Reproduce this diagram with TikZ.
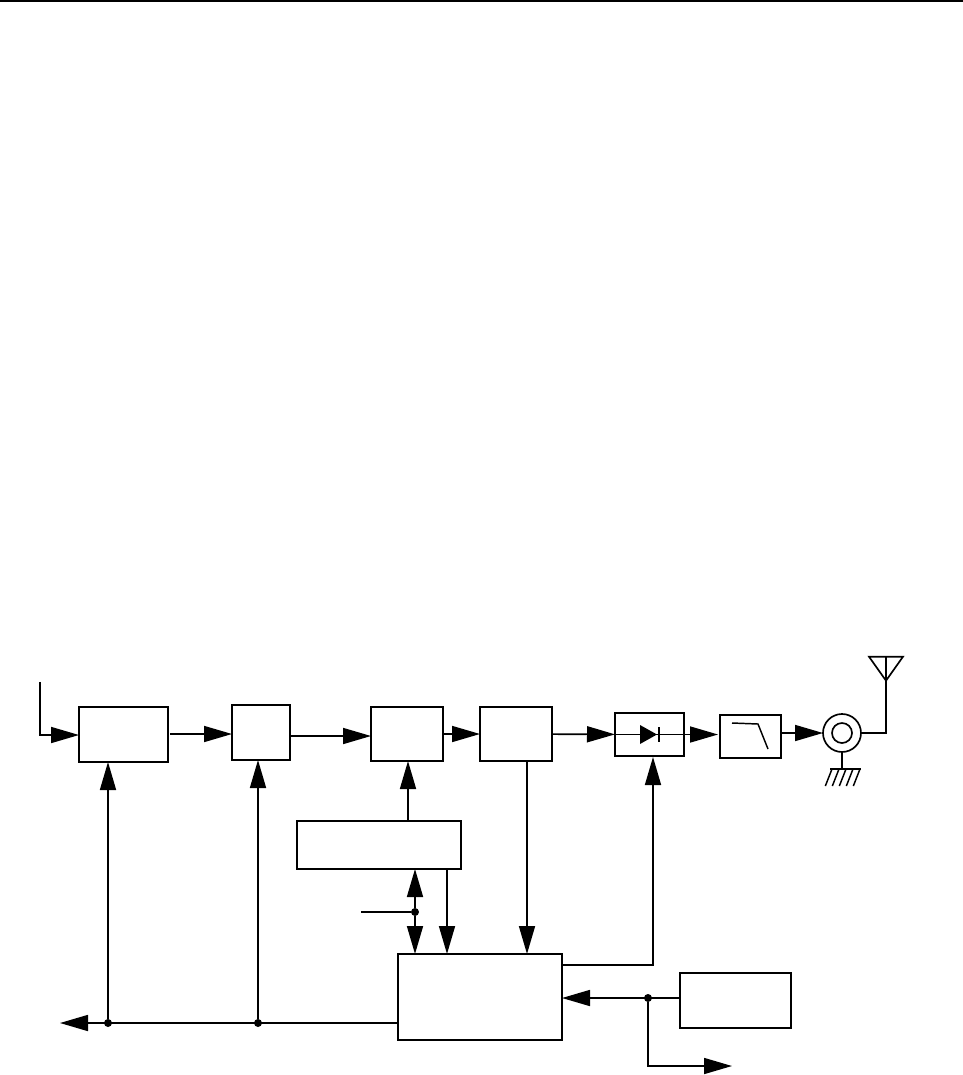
\documentclass[tikz,border=0pt]{standalone}
\usepackage{tikz}
\usetikzlibrary{arrows.meta,positioning,calc}

\begin{document}
\begin{tikzpicture}[
    line width=1.25pt,
    block/.style={draw, outer sep=0pt, inner sep=0pt, minimum width=54pt, minimum height=40.5pt},
    port/.style={draw, circle, outer sep=0pt, inner sep=0pt, minimum size=28.5pt},
    dot/.style={fill, circle, outer sep=0pt, inner sep=0pt, minimum size=6pt},
    arrow/.style={-{Triangle[length=21pt, width=12pt]}},
    thin wire/.style={line width=1.1pt}
  ]
    \useasboundingbox (0,0) rectangle (722.25pt,-806.25pt);
    \draw[line width=1.1pt] (0,-0.75pt) -- (722.25pt,-0.75pt);

    % top chain
    \node[block, minimum width=66.75pt, minimum height=41.25pt] (amp) at (92.625pt,-550.875pt) {};
    \node[block, minimum width=43.5pt, minimum height=41.25pt, right=48pt of amp, yshift=1.5pt] (mix) {};
    \node[block, right=60.75pt of mix, yshift=-1.125pt] (gain) {};
    \node[block, right=27.75pt of gain] (pwr) {};
    \node[block, minimum width=51.75pt, minimum height=32.25pt, right=47.25pt of pwr, yshift=-0.375pt] (diode) {};
    \node[block, minimum width=45.75pt, minimum height=32.25pt, right=27pt of diode, yshift=-1.5pt] (filter) {};
    \node[port, right=31.5pt of filter, yshift=2.625pt] (conn) {};
    \node[port, minimum size=15pt] (conncore) at (conn.center) {};

    % control part
    \node[block, minimum width=123pt, minimum height=36pt, below=45pt of gain, xshift=-21pt] (ctrl) {};
    \node[block, minimum width=123pt, minimum height=64.5pt, below=63.75pt of ctrl, xshift=75.75pt] (cpu) {};
    \node[block, minimum width=83.25pt, minimum height=41.25pt, right=88.5pt of cpu, yshift=-2.625pt] (ref) {};

    \coordinate (inp) at ([shift={(-29.25pt,39.4pt)}]amp.west);
    \draw[arrow] (inp) |- ([yshift=-0.375pt]amp.west);
    \coordinate (ampout) at ([yshift=0.375pt]amp.east);
    \draw[arrow, shorten <=1.5pt] (ampout) -- (ampout -| mix.west);
    \coordinate (mixout) at ([yshift=-2.625pt]mix.east);
    \draw[arrow] (mixout) -- (mixout -| gain.west);
    \draw[arrow] (gain) -- (pwr);
    \draw[arrow] (pwr) -- (diode);
    \draw (diode.west) -- (diode.east);
    \draw[arrow, shorten >=1.5pt] (diode.east) -- (diode.east -| filter.west);
    \draw[arrow] (filter.east |- conn.west) -- (conn.west);

    % diode symbol
    \fill ([shift={(-7.125pt,7.125pt)}]diode.center) -- ([xshift=5.625pt]diode.center)
      -- ([shift={(-7.125pt,-7.125pt)}]diode.center) -- cycle;
    \draw ([shift={(7.125pt,5.625pt)}]diode.center) -- ([shift={(7.125pt,-5.625pt)}]diode.center);

    % filter symbol
    \draw[thin wire] ([shift={(-13.875pt,10.125pt)}]filter.center) -- ([shift={(5.625pt,9.375pt)}]filter.center)
      -- ([shift={(13.125pt,-9.375pt)}]filter.center);

    % antenna
    \coordinate (anttop) at ([shift={(18.75pt,58pt)}]conn.east);
    \draw (conn.east) -| (anttop);
    \draw ([shift={(-12.75pt,-0.75pt)}]anttop) -- ([yshift=-18.75pt]anttop) -- ([shift={(12.75pt,-0.75pt)}]anttop) -- cycle;

    % ground
    \coordinate (gnd) at ([yshift=-12.75pt]conn.south);
    \draw (conn.south) -- (gnd);
    \draw ([xshift=-9pt]gnd) -- ([xshift=14.25pt]gnd);
    \foreach \k in {0,...,4}
      \draw[thin wire] ([xshift={-7.5pt+\k*5.25pt}]gnd) -- ++(-5pt,-12.75pt);

    \draw[arrow] ([xshift=0.75pt]gain.south |- ctrl.north) -- ([xshift=0.75pt]gain.south);
    \draw[arrow] ([xshift=8.25pt]pwr.south) -- ([xshift=8.25pt]pwr.south |- cpu.north);
    \coordinate (cputop) at ([yshift=24pt]cpu.east);
    \draw[arrow] (cputop) -| ([xshift=2.625pt,yshift=-0.75pt]diode.south);

    % control lines
    \coordinate (ctrlio) at ([xshift=27pt]ctrl.south);
    \node[dot, yshift=-0.375pt] (jctrl) at ($(ctrlio)!0.5!(ctrlio |- cpu.north)$) {};
    \coordinate[left=37.5pt of jctrl] (sens);
    \draw (sens) -- (jctrl);
    \draw[arrow] (jctrl) -- (ctrlio);
    \draw[arrow] (jctrl) -- (ctrlio |- cpu.north);
    \draw[arrow] ([xshift=51pt]ctrl.south) -- ([xshift=51pt]ctrl.south |- cpu.north);

    % bus
    \coordinate (busr) at ([yshift=-19.5pt]cpu.west);
    \coordinate (busl) at ([xshift=-253.5pt]busr);
    \draw[arrow] (busr) -- (busl);
    \node[dot] (jamp) at ([xshift=-11.625pt]amp.south |- busr) {};
    \node[dot] (jmix) at ([xshift=-2.25pt]mix.south |- busr) {};
    \draw[arrow] (jamp) -- (jamp |- amp.south);
    \draw[arrow] (jmix) -- (jmix |- mix.south);

    % reference
    \coordinate (refin) at ([yshift=1.875pt]ref.west);
    \draw[arrow] (refin) -- (refin -| cpu.east);
    \node[dot] (jref) at ([xshift=64.5pt]cpu.east |- refin) {};
    \coordinate (refout) at ([shift={(63pt,-51pt)}]jref);
    \draw[arrow] (jref) |- (refout);
\end{tikzpicture}
\end{document}
